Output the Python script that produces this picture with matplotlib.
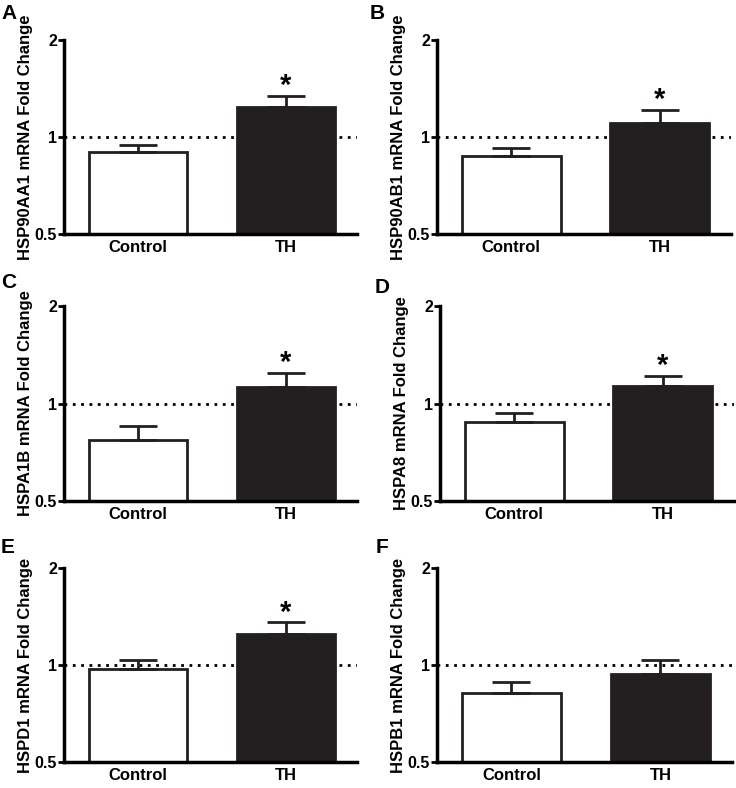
import numpy as np
import matplotlib
matplotlib.use('Agg')
import matplotlib.pyplot as plt
from matplotlib.ticker import FixedLocator, FixedFormatter, NullLocator

plt.rcParams['font.family'] = ['Liberation Sans', 'DejaVu Sans']
plt.rcParams['font.weight'] = 'bold'

groups = ['Control', 'TH']
panels = ['A', 'B', 'C', 'D', 'E', 'F']
genes = ['HSP90AA1', 'HSP90AB1', 'HSPA1B', 'HSPA8', 'HSPD1', 'HSPB1']
# mean fold change, (Control, TH)
means = [[0.898, 1.239], [0.870, 1.102], [0.770, 1.125],
         [0.878, 1.136], [0.974, 1.251], [0.819, 0.940]]
# upper end of error bar
upper = [[0.945, 1.339], [0.927, 1.216], [0.850, 1.245],
         [0.936, 1.216], [1.036, 1.356], [0.884, 1.036]]
signif = [True, True, True, True, True, False]

# axes boxes in pixels: left, top, right, bottom
W, H = 736, 788
boxes = [(64, 40, 357, 234), (437, 40, 731, 234),
         (64, 306, 357, 501), (440, 306, 734, 501),
         (64, 568, 357, 762), (437, 568, 732, 762)]
# panel letter corners (pixels)
letter_xy = [(1, 4), (370, 4), (1, 273), (375, 278), (1, 538), (376, 538)]

fig = plt.figure(figsize=(W / 100, H / 100), dpi=100)

for i, p in enumerate(panels):
    l, t, r, b = boxes[i]
    ax = fig.add_axes([l / W, 1 - b / H, (r - l) / W, (b - t) / H])
    x = np.arange(len(groups))
    m = np.array(means[i])
    err = np.array(upper[i]) - m
    ax.axhline(1, color='black', ls=(0, (1, 2)), lw=2, zorder=1)
    ax.bar(x, m, width=0.665, bottom=0, color=['white', '#231f20'],
           edgecolor='#231f20', lw=2, zorder=2)
    ax.errorbar(x, m, yerr=[np.zeros_like(err), err], fmt='none',
                ecolor='#231f20', elinewidth=2, capsize=13.5, capthick=2,
                zorder=3)
    if signif[i]:
        ax.annotate('*', (1, upper[i][1]), xytext=(0, -3),
                    textcoords='offset points', ha='center', va='bottom',
                    fontsize=21, fontweight='bold')
    ax.set_yscale('log', base=2)
    ax.set_ylim(0.5, 2)
    ax.set_xlim(-0.5, 1.48)
    ax.yaxis.set_major_locator(FixedLocator([0.5, 1, 2]))
    ax.yaxis.set_major_formatter(FixedFormatter(['0.5', '1', '2']))
    ax.yaxis.set_minor_locator(NullLocator())
    ax.set_xticks(x)
    ax.set_xticklabels(groups, fontsize=12, fontweight='bold')
    ax.tick_params(axis='x', length=0, pad=4)
    ax.tick_params(axis='y', length=4.5, width=2, pad=0.5, labelsize=11.5)
    for s in ['top', 'right']:
        ax.spines[s].set_visible(False)
    for s in ['left', 'bottom']:
        ax.spines[s].set_linewidth(2.5)
    ax.set_ylabel('%s mRNA Fold Change' % genes[i], fontsize=12,
                  fontweight='bold')
    ax.yaxis.set_label_coords(-31 / (r - l), 0.5)
    lx, ly = letter_xy[i]
    fig.text(lx / W, 1 - ly / H, p, ha='left', va='top',
             fontsize=15, fontweight='bold')

fig.savefig('out.png', dpi=100)
